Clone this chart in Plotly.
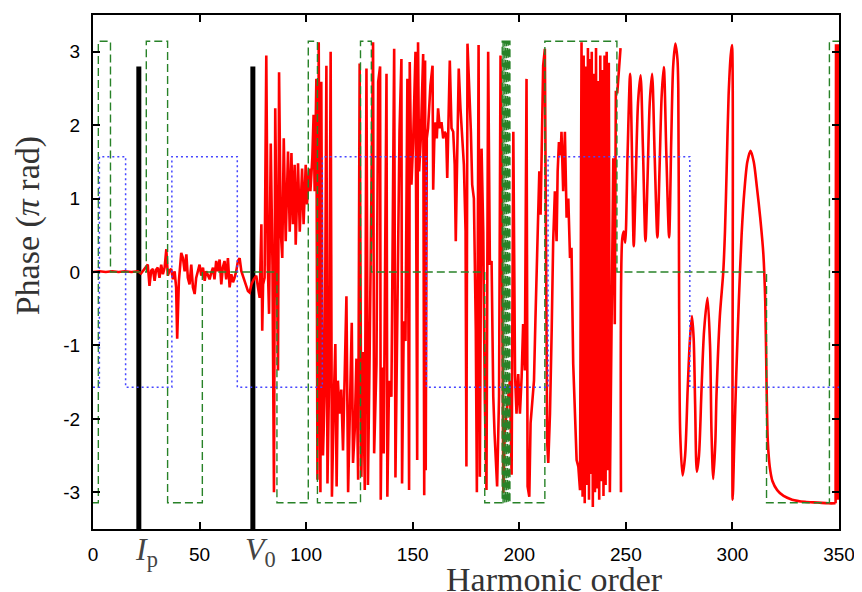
import plotly.graph_objects as go

# ---- data ------------------------------------------------------------------
# red: computed phase, noisy part (harmonic order, phase)
red_noisy = [
    (0.0, 0.00), (3.0, 0.01), (6.0, 0.00), (9.0, 0.01), (12.0, 0.00), (15.0, 0.01),
    (18.0, 0.00), (21.0, 0.01), (22.5, -0.02), (23.4, 0.01), (24.5, 0.05), (25.7, 0.10),
    (26.5, -0.19), (27.3, 0.02), (28.1, 0.04), (28.9, -0.12), (29.6, 0.03), (30.4, 0.06),
    (31.2, -0.08), (32.0, 0.10), (32.8, -0.03), (33.6, 0.06), (34.4, 0.31), (35.1, -0.05),
    (35.9, 0.02), (36.7, 0.04), (37.5, -0.10), (38.3, 0.01), (39.0, -0.21), (39.5, -0.91),
    (40.3, -0.12), (41.4, 0.26), (42.2, 0.19), (43.0, 0.01), (43.8, 0.24), (44.5, -0.08),
    (45.3, -0.17), (46.1, 0.10), (46.9, -0.21), (47.7, -0.30), (48.4, -0.08), (49.2, 0.01),
    (50.0, 0.10), (50.8, -0.05), (51.6, 0.06), (52.4, -0.12), (53.1, 0.01), (53.9, -0.04),
    (54.7, -0.10), (55.5, -0.01), (56.3, 0.06), (57.0, -0.10), (57.8, 0.15), (58.6, 0.01),
    (59.4, 0.17), (60.2, -0.17), (60.9, 0.06), (61.7, 0.15), (62.5, -0.10), (63.3, 0.19),
    (64.1, -0.21), (64.9, -0.03), (65.7, -0.14), (66.4, -0.08), (67.2, 0.01), (68.0, 0.15),
    (68.8, 0.19), (69.6, 0.01), (70.3, -0.05), (71.1, -0.14), (71.9, -0.21), (72.7, -0.26),
    (73.5, -0.28), (74.3, -0.17), (75.4, -0.10), (76.6, -0.05), (77.4, -0.21), (78.2, -0.35),
    (79.0, 0.65), (79.4, -0.80), (79.8, -0.17), (80.5, -0.08), (81.3, 2.95), (82.0, 0.10),
    (82.6, -0.57), (83.4, 1.75), (84.2, 0.10), (84.9, -3.00), (85.5, 2.23), (86.3, 0.10),
    (86.8, -1.34), (87.3, 2.72), (88.1, 0.55), (88.8, 0.19), (89.5, 1.82), (90.4, 0.42),
    (91.5, 1.64), (92.3, 0.55), (93.1, 1.62), (93.8, 0.65), (94.6, 1.46), (95.1, 0.37),
    (96.2, 1.48), (97.0, 0.55), (98.1, 1.41), (98.8, 0.65), (99.8, 1.46), (100.4, 0.92),
    (101.4, 1.41), (102.0, 1.10), (102.9, 1.55), (103.5, 2.14), (104.0, 1.10), (104.8, 2.63),
    (105.3, -2.83), (105.9, 3.13), (106.7, -3.00), (107.1, 2.59), (107.9, -2.50), (108.7, -1.66),
    (109.5, 2.81), (110.0, -2.88), (110.8, -1.43), (111.5, 3.00), (112.1, -3.06), (113.1, -1.60),
    (113.7, -0.98), (114.3, -2.92), (114.9, -1.48), (115.7, -1.93), (116.5, -1.60), (117.3, -2.43),
    (118.1, -1.55), (118.9, -0.33), (119.7, -3.00), (120.5, -1.70), (121.4, -0.69), (122.0, -2.60),
    (122.8, -2.15), (123.6, -1.18), (124.4, -2.83), (125.1, 2.84), (125.9, -2.79), (126.7, -1.09),
    (127.5, -2.97), (128.3, 2.77), (129.0, -2.90), (129.8, -1.10), (131.4, 3.13), (131.9, -2.47),
    (133.0, -1.25), (133.8, 2.59), (134.7, 2.80), (135.0, -3.10), (135.6, -1.30), (136.4, -2.47),
    (137.7, 2.70), (138.1, -3.06), (138.9, -1.48), (140.0, -1.70), (141.3, 3.04), (141.9, -2.80),
    (143.1, 0.56), (143.8, 1.91), (144.7, 2.90), (145.0, -2.88), (145.8, -0.67), (146.6, -0.94),
    (147.5, 2.63), (148.3, -2.97), (148.6, 2.86), (149.4, 1.19), (150.2, 1.77), (151.3, 3.00),
    (152.1, -2.56), (152.5, 3.13), (153.0, 1.37), (153.8, 1.82), (154.9, 2.97), (155.4, -3.04),
    (155.8, 2.88), (156.1, -2.70), (156.6, 1.82), (157.2, 1.96), (158.3, 2.54), (159.3, 2.81),
    (159.6, 1.12), (160.1, 1.77), (160.7, 2.04), (161.3, 1.82), (161.9, 2.23), (162.7, 1.96),
    (163.5, 2.04), (164.3, 1.82), (165.0, 1.91), (165.7, 1.87), (166.2, 1.28), (166.6, 2.04),
    (167.4, 2.88), (168.2, 1.96), (169.0, 1.91), (169.7, 1.46), (170.2, 0.42), (170.8, 1.46),
    (171.6, 2.77), (172.4, 2.23), (173.2, 1.91), (174.0, 1.46), (174.8, 0.56), (175.2, -2.65),
    (175.7, 3.11), (176.3, 2.68), (177.3, 1.91), (177.9, 1.19), (178.7, 1.00), (179.6, -0.80),
    (180.1, -3.00), (180.9, 3.09), (181.5, -2.79), (182.3, 1.68), (183.1, 0.55), (183.8, -1.70),
    (184.6, -2.97), (185.4, 3.00), (186.2, 0.10), (187.0, 0.15), (187.8, -1.70), (188.4, -2.20),
    (189.6, -2.92), (190.5, -1.70), (191.2, 2.95), (191.7, 1.46), (192.5, -3.01), (193.2, -2.15),
    (194.8, -1.70), (195.6, -1.48), (196.4, -2.76), (197.2, 1.91), (198.0, -1.39), (198.7, -1.93),
    (199.5, -1.39), (200.3, -1.93), (201.1, -1.43), (201.8, -0.71), (202.6, -1.34), (203.4, 2.63),
    (203.9, -2.92), (204.7, -3.06), (205.3, -2.06), (206.1, -1.75), (206.9, -1.48), (207.6, -0.62),
    (208.9, 0.78), (209.4, 1.37), (210.0, 0.78), (210.5, 1.64), (211.2, 2.81), (212.0, 3.04),
    (212.5, 0.10), (213.1, -2.33), (213.6, -2.60), (214.4, -1.93), (215.2, -0.80), (215.9, 0.42),
    (216.7, 1.10), (217.5, 0.42), (218.0, 1.37), (218.6, 1.77), (219.4, 1.59), (219.8, 1.91),
    (220.6, 1.10), (221.4, 1.91), (222.2, 0.74), (223.0, 1.00), (223.8, 0.19), (224.5, 0.33),
    (225.3, -1.25), (226.1, -1.93), (226.9, -2.56), (227.7, -2.65), (228.5, -2.97), (229.2, 3.13),
    (229.7, -3.06), (230.2, 2.95), (230.7, -3.15), (231.2, 2.80), (231.7, -2.90), (232.2, 3.05),
    (232.7, -3.10), (233.2, 2.90), (233.6, -2.75), (234.0, 3.00), (234.5, -3.20), (235.0, 2.70),
    (235.5, -3.00), (236.0, 3.05), (236.5, -2.95), (237.0, 2.60), (237.5, -3.10), (238.0, 2.95),
    (238.5, -2.85), (239.0, 2.75), (239.5, -3.05), (240.0, 2.95), (240.5, -2.90), (241.0, 3.00),
    (241.5, -2.70), (242.0, 2.85), (242.5, -3.00), (243.3, -0.71), (244.1, 1.55), (244.8, -0.71),
    (245.3, 2.45), (246.0, 2.45), (247.1, 3.00), (247.5, 3.05),
]

# red: computed phase, smooth high-order part
red_smooth = [
    (247.7, -3.00), (248.3, 0.45), (249.0, 0.55), (249.7, 0.40), (250.8, 1.60), (252.0, 2.70),
    (253.0, 1.40), (253.7, 0.35), (254.6, 1.20), (255.7, 2.30), (256.9, 2.68), (258.0, 1.70),
    (259.2, 0.42), (260.2, 1.30), (261.2, 2.30), (262.3, 2.70), (263.5, 1.60), (264.8, 0.47),
    (265.8, 1.40), (266.8, 2.40), (267.8, 2.79), (269.0, 1.60), (270.3, 0.47), (271.3, 1.80),
    (272.2, 2.80), (273.2, 3.11), (274.2, 2.90), (274.6, 2.50), (275.0, -0.50), (275.5, -2.20),
    (276.6, -2.77), (277.8, -2.50), (279.0, -1.60), (280.0, -0.95), (281.0, -0.60), (281.8, -0.90),
    (282.5, -1.80), (283.3, -2.72), (284.3, -2.50), (285.5, -1.60), (286.7, -0.80), (288.3, -0.35),
    (289.5, -1.00), (290.2, -2.20), (291.0, -2.82), (292.0, -2.30), (292.5, -1.70), (294.1, -0.60),
    (295.7, 0.00), (296.5, 0.55), (297.3, 1.40), (298.2, 2.40), (299.2, 2.95), (299.8, 3.09),
    (300.1, -3.10), (300.8, -2.40), (301.8, -1.40), (303.0, -0.40), (304.3, 0.50), (305.6, 1.10),
    (307.0, 1.50), (308.5, 1.65), (310.0, 1.50), (311.5, 1.15), (313.0, 0.75), (314.5, 0.25),
    (315.4, -0.40), (316.0, -1.50), (316.6, -2.30), (317.5, -2.65), (318.8, -2.85), (321.0, -2.97),
    (324.0, -3.05), (328.0, -3.10), (334.0, -3.13), (340.0, -3.14), (345.0, -3.15), (348.4, -3.15),
]

# red: phase wrapping at the very end of the spectrum
red_edge = [
    (348.4, -3.15), (348.6, 3.10), (348.8, -3.10), (349.0, 3.10), (349.2, -3.10), (349.4, 3.10),
    (349.6, -3.10), (349.8, 3.10), (350.0, -3.10),
]

# green dashed: step levels (start of step, phase)
green_h = [0, 2.5, 8.2, 25, 35, 51.3, 86.3, 101, 105.3, 125.5, 130.6, 183.8,
           192.0, 192.4, 192.8, 193.2, 193.6, 194.0, 194.4, 194.8, 195.2, 195.6,
           212, 245.8, 316, 345.5, 350]
green_phase = [-3.1416, 3.1416, 0, 3.1416, -3.1416, 0, -3.1416, 3.1416, -3.1416, 3.1416, 0, -3.1416,
               3.1416, -3.1416, 3.1416, -3.1416, 3.1416, -3.1416, 3.1416, -3.1416, 3.1416, -3.1416,
               3.1416, 0, -3.1416, 3.1416, 3.1416]

# blue dotted: step levels
blue_h = [0, 3.0, 15.3, 37, 67.7, 107.6, 156.4, 213.5, 280, 350]
blue_phase = [-1.5708, 1.5708, -1.5708, 1.5708, -1.5708, 1.5708, -1.5708, 1.5708, -1.5708, -1.5708]

# markers for ionisation potential and well depth
marker_h = [21.5, 75.0]
marker_labels = ["<i>I</i><sub>p</sub>", "<i>V</i><sub>0</sub>"]
marker_top = 2.8

x_ticks = [0, 50, 100, 150, 200, 250, 300, 350]
y_ticks = [-3, -2, -1, 0, 1, 2, 3]

# ---- figure -----------------------------------------------------------------
# the page body keeps its 8px default margin, so the figure is 8px smaller
fig = go.Figure()

for h in marker_h:
    fig.add_trace(go.Scatter(x=[h, h], y=[-3.5, marker_top], mode="lines",
                             line=dict(color="black", width=5), hoverinfo="skip"))

red_line = dict(color="#ff0000", width=2.6)
fig.add_trace(go.Scatter(x=[p[0] for p in red_noisy], y=[p[1] for p in red_noisy],
                         mode="lines", line=red_line))
fig.add_trace(go.Scatter(x=[p[0] for p in red_smooth], y=[p[1] for p in red_smooth],
                         mode="lines", line=dict(red_line, shape="spline", smoothing=0.8)))
fig.add_trace(go.Scatter(x=[p[0] for p in red_edge], y=[p[1] for p in red_edge],
                         mode="lines", line=red_line))

fig.add_trace(go.Scatter(x=green_h, y=green_phase, mode="lines",
                         line=dict(color="rgb(40,130,40)", width=1.4, dash="8px,4px", shape="hv")))
fig.add_trace(go.Scatter(x=blue_h, y=blue_phase, mode="lines",
                         line=dict(color="rgb(70,70,255)", width=1.5, dash="2px,3px", shape="hv")))

serif = "Liberation Serif, Times New Roman, serif"
axis_common = dict(showline=True, linewidth=2, linecolor="black", mirror="ticks",
                   ticks="inside", ticklen=7, tickwidth=1.5, tickcolor="black",
                   showgrid=False, zeroline=False, ticklabelstandoff=7,
                   tickfont=dict(family="Liberation Sans, Arial, sans-serif", size=19, color="black"))

fig.update_layout(
    width=854, height=584,
    margin=dict(l=85, r=23, t=5, b=63),
    plot_bgcolor="white", paper_bgcolor="white",
    showlegend=False,
    xaxis=dict(range=[0, 350], tickvals=x_ticks, ticktext=[str(v) for v in x_ticks], **axis_common),
    yaxis=dict(range=[-3.5, 3.5], tickvals=y_ticks, ticktext=[str(v) for v in y_ticks], **axis_common),
)

for h, label in zip(marker_h, marker_labels):
    fig.add_annotation(x=h, xref="x", xshift=8, y=0, yref="paper", yanchor="middle", yshift=-22,
                       text=label, showarrow=False, font=dict(family=serif, size=32, color="#444"))

fig.add_annotation(x=0.619, xref="paper", xanchor="center", y=0, yref="paper", yanchor="middle",
                   yshift=-50, text="Harmonic order", showarrow=False,
                   font=dict(family=serif, size=34, color="#333"))
fig.add_annotation(x=-0.087, xref="paper", xanchor="center", y=0.589, yref="paper", yanchor="middle",
                   textangle=-90, text="Phase (<i>π</i> rad)", showarrow=False,
                   font=dict(family=serif, size=34, color="#333"))

fig.write_html("out.html")
